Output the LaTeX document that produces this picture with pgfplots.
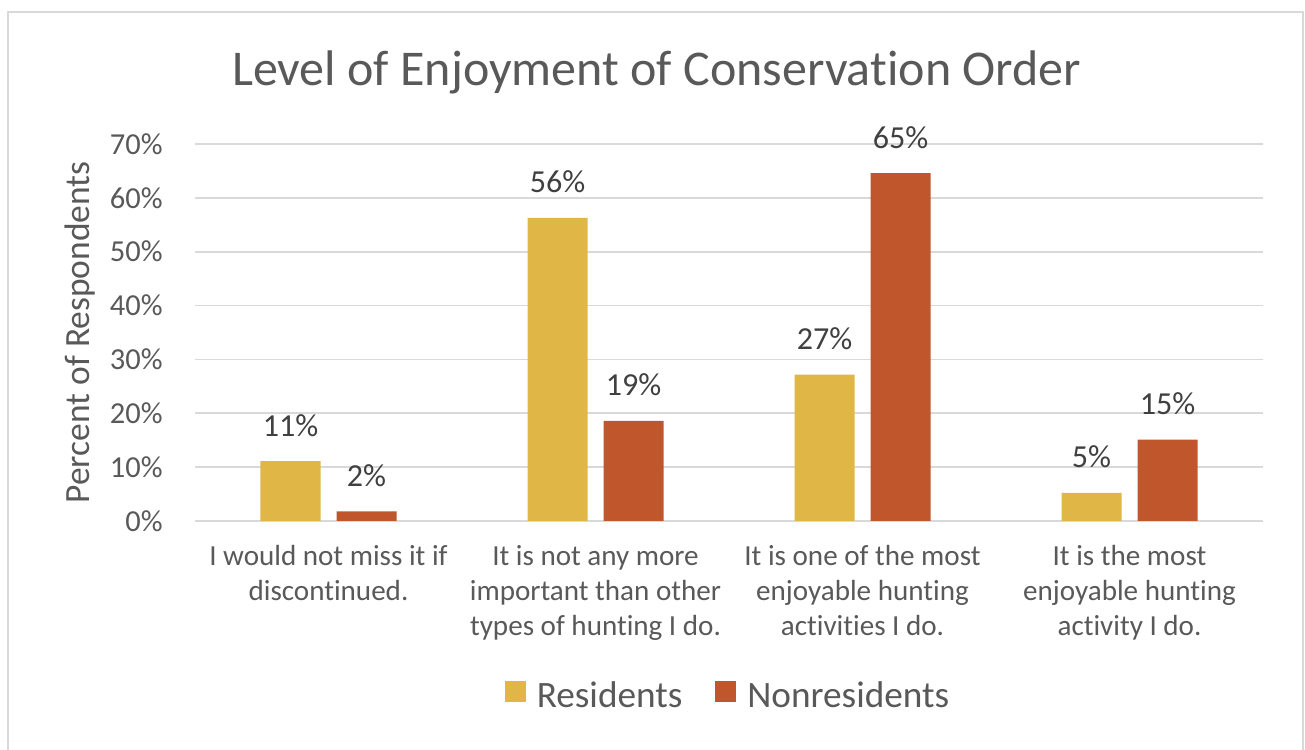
\documentclass[border=0pt]{standalone}
\usepackage{fontspec}
\setmainfont{Carlito}[Ligatures=NoCommon]
\usepackage{pgfplots}
\pgfplotsset{compat=1.18}
\definecolor{resY}{HTML}{E0B746}
\definecolor{nonO}{HTML}{C0562C}
\definecolor{txt}{HTML}{595959}
\definecolor{txtd}{HTML}{404040}
\definecolor{gridc}{HTML}{D9D9D9}
\begin{document}
\begin{tikzpicture}
\useasboundingbox (0,0) rectangle (652.5bp,375bp);
\draw[gridc, line width=0.9bp] (4bp,-5bp) -- (4bp,369bp) -- (651.5bp,369bp) -- (651.5bp,-5bp);
\node[txt, font=\fontsize{25.1}{30}\selectfont, anchor=base, inner sep=0pt] at (328.3bp,332bp) {Level of Enjoyment of Conservation Order};
\begin{axis}[
  at={(97.5bp,114.5bp)}, anchor=south west,
  scale only axis, width=534bp, height=188.5bp,
  ymin=0, ymax=70, xmin=-0.5, xmax=3.5,
  ybar=8bp, bar width=30bp,
  axis line style={draw=none},
  ymajorgrids, major grid style={gridc, line width=0.9bp},
  ytick={0,10,...,70}, xtick={0,1,2,3},
  major tick length=0pt, tick style={draw=none},
  xticklabels={{I would not miss it if\\discontinued.},{It is not any more\\important than other\\types of hunting I do.},{It is one of the most\\enjoyable hunting\\activities I do.},{It is the most\\enjoyable hunting\\activity I do.}},
  yticklabel={\pgfmathprintnumber{\tick}\%},
  /pgf/number format/assume math mode=true,
  yticklabel style={font=\fontsize{15.3}{17.5}\selectfont, text=txt, inner sep=0pt, xshift=-16bp},
  xticklabel style={font=\fontsize{14.6}{17.5}\selectfont, text=txt, align=center, inner sep=0pt, yshift=-12bp, anchor=north},
  point meta=y,
  nodes near coords={\pgfmathprintnumber[fixed,precision=0]{\pgfplotspointmeta}\%},
  nodes near coords style={font=\fontsize{16.1}{18}\selectfont, text=txtd, anchor=base, yshift=12.5bp, inner sep=0pt},
  ylabel={Percent of Respondents},
  ylabel style={at={(axis description cs:-0.1077,0.5)}, anchor=center, font=\fontsize{17.8}{20}\selectfont, text=txt},
  legend columns=2,
  legend style={draw=none, fill=none, font=\fontsize{18.7}{20}\selectfont, text=txt,
    at={(axis description cs:0.5,-0.464)}, anchor=center,
    /tikz/every odd column/.append style={column sep=3.5bp},
    /tikz/every even column/.append style={column sep=14.5bp}},
  legend image code/.code={\fill[#1] (0bp,-3bp) rectangle (10.5bp,7.5bp);},
]
\addplot[fill=resY, draw=none] coordinates {(0,11.1) (1,56.3) (2,27.2) (3,5.2)};
\addplot[fill=nonO, draw=none] coordinates {(0,1.8) (1,18.6) (2,64.6) (3,15.1)};
\legend{Residents,Nonresidents}
\end{axis}
\end{tikzpicture}
\end{document}
